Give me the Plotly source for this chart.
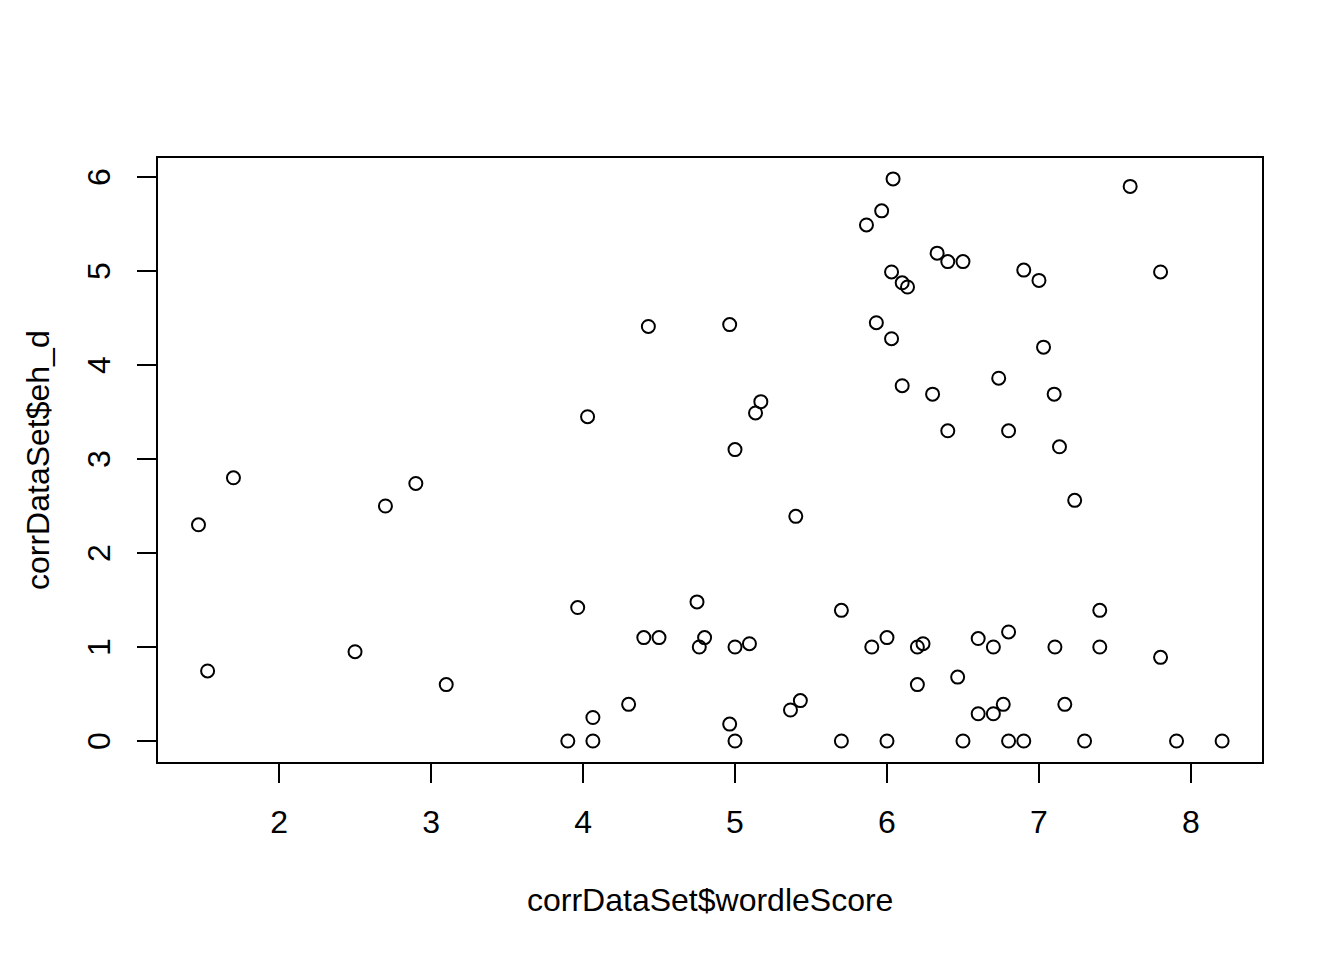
import plotly.graph_objects as go

wordle_score = [1.47, 1.70, 1.53, 2.50, 2.70, 2.90, 3.10,
                3.965, 4.75, 5.70, 4.40, 4.50, 4.80, 4.765, 5.00, 5.095,
                4.30, 4.065, 3.90, 4.065, 4.965, 5.00, 5.43, 5.365,
                7.40, 5.90, 6.00, 6.20, 6.237, 6.60, 6.70, 6.80, 7.105, 7.40, 7.80,
                6.20, 6.465, 6.60, 6.70, 6.765, 7.17,
                5.70, 6.00, 6.50, 6.80, 6.90, 7.30, 7.905, 8.205,
                6.04, 5.965, 5.865, 7.60, 6.33, 6.40, 6.50, 6.03, 6.10, 6.135,
                6.90, 7.00, 7.80, 5.93, 6.03, 7.03,
                6.10, 6.30, 6.735, 7.10, 6.40, 6.80, 7.135, 7.235,
                4.43, 4.965, 4.03, 5.17, 5.135, 5.00, 5.40]
eh_d = [2.30, 2.80, 0.745, 0.95, 2.50, 2.74, 0.60,
        1.42, 1.48, 1.39, 1.10, 1.10, 1.10, 1.00, 1.00, 1.035,
        0.39, 0.25, 0.00, 0.00, 0.18, 0.00, 0.43, 0.33,
        1.39, 1.00, 1.10, 1.00, 1.035, 1.09, 1.00, 1.16, 1.00, 1.00, 0.89,
        0.60, 0.68, 0.29, 0.29, 0.39, 0.39,
        0.00, 0.00, 0.00, 0.00, 0.00, 0.00, 0.00, 0.00,
        5.98, 5.64, 5.49, 5.90, 5.19, 5.10, 5.10, 4.99, 4.875, 4.83,
        5.01, 4.90, 4.99, 4.45, 4.28, 4.19,
        3.78, 3.69, 3.86, 3.69, 3.30, 3.30, 3.13, 2.56,
        4.41, 4.43, 3.45, 3.61, 3.49, 3.10, 2.39]

x_ticks = [2, 3, 4, 5, 6, 7, 8]
y_ticks = [0, 1, 2, 3, 4, 5, 6]
x_title = "corrDataSet$wordleScore"
y_title = "corrDataSet$eh_d"

FONT = "Liberation Sans, Arial, sans-serif"
W, H = 1344, 960
# page has an 8px body margin, so offsets are reduced by 8
L, T = 149, 149
pw, ph = 1106, 606
R, B = W - L - pw, H - T - ph

fig = go.Figure()
fig.add_trace(go.Scatter(
    x=wordle_score, y=eh_d, mode="markers",
    marker=dict(symbol="circle-open", size=13, color="black",
                line=dict(color="black", width=2)),
    showlegend=False, hoverinfo="x+y",
))

fig.update_layout(
    width=W, height=H,
    margin=dict(l=L, r=R, t=T, b=B),
    paper_bgcolor="white", plot_bgcolor="white",
    font=dict(family=FONT, size=32, color="black"),
    xaxis=dict(range=[1.197, 8.474], tickvals=x_ticks, ticks="outside",
               ticklen=19, tickwidth=2, tickcolor="black", showgrid=False,
               zeroline=False, showline=False, ticklabelstandoff=12,
               tickfont=dict(size=32, family=FONT, color="black")),
    yaxis=dict(range=[-0.234, 6.213], tickvals=y_ticks, ticks="outside",
               ticklen=19, tickwidth=2, tickcolor="black", showgrid=False,
               zeroline=False, showline=False, tickangle=-90,
               ticklabelstandoff=14, ticklabelshift=5,
               tickfont=dict(size=32, family=FONT, color="black")),
    shapes=[dict(type="rect", xref="paper", yref="paper", x0=0, x1=1, y0=0, y1=1,
                 line=dict(color="black", width=2), layer="above")],
    annotations=[
        dict(text=x_title, xref="paper", yref="paper", x=0.5,
             y=-(900 - 8 - (T + ph)) / ph, xanchor="center", yanchor="middle",
             showarrow=False, font=dict(size=32, family=FONT, color="black")),
        dict(text=y_title, xref="paper", yref="paper", x=-(L - 30) / pw,
             y=0.5, xanchor="center", yanchor="middle", textangle=-90,
             showarrow=False, font=dict(size=32, family=FONT, color="black")),
    ],
)

fig.write_html("out.html")
